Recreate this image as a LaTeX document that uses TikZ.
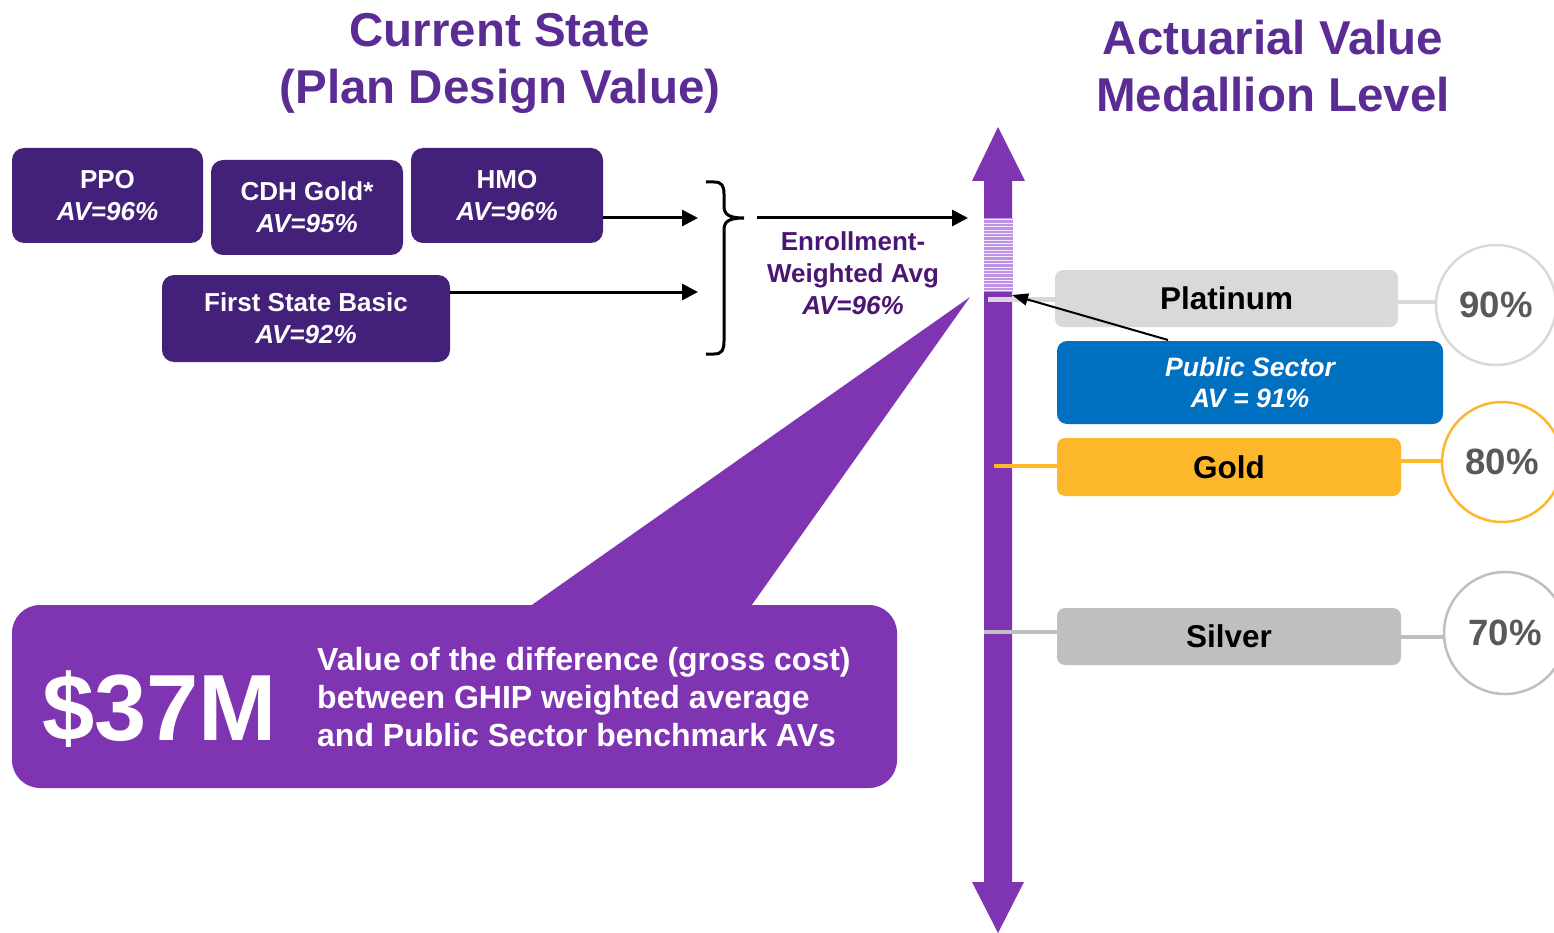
\documentclass[tikz,border=0pt]{standalone}
\usepackage{fontspec}
\setmainfont{Liberation Sans}
\usetikzlibrary{arrows.meta,calc}
\definecolor{boxpurple}{HTML}{43207A}
\definecolor{titlepurple}{HTML}{5B2D94}
\definecolor{avgpurple}{HTML}{4B1574}
\definecolor{axispurple}{HTML}{7F35B2}
\definecolor{stripeA}{HTML}{BE92E4}
\definecolor{stripeB}{HTML}{F3EAFA}
\definecolor{platgrey}{HTML}{D9D9D9}
\definecolor{silvgrey}{HTML}{BFBFBF}
\definecolor{goldc}{HTML}{FDB72A}
\definecolor{psblue}{HTML}{0070C0}
\definecolor{pcttext}{HTML}{595959}
\begin{document}
\begin{tikzpicture}[x=1pt,y=-1pt,
  planbox/.style={fill=boxpurple, rounded corners=12pt, text=white, align=center, inner sep=0pt,
    font=\bfseries\fontsize{26}{32}\selectfont},
  medal/.style={rounded corners=8pt, inner sep=0pt, text=black, font=\bfseries\fontsize{31.5}{36}\selectfont,
    minimum width=344pt, minimum height=57pt},
  pct/.style={circle, draw, line width=2.5pt, fill=white, minimum size=120pt, inner sep=0pt,
    text=pcttext, font=\bfseries\fontsize{36.6}{40}\selectfont},
  conn/.style={line width=4pt},
  arr/.style={line width=3pt, -{Triangle[length=16pt,width=16pt]}},
  title/.style={text=titlepurple, align=center, font=\bfseries\fontsize{47.5}{57}\selectfont}
]
\useasboundingbox (0,0) rectangle (1554,933);

% titles
\node[title] (t1) at (500,63) {Current State\\(Plan Design Value)};
\node[title] (t2) at (1273,66) {Actuarial Value\\Medallion Level};

% callout
\node[fill=axispurple, rounded corners=28pt, minimum width=885pt, minimum height=183pt, inner sep=0pt] (callout) at (454.5,696.5) {};
\coordinate (ptip) at (970,297);
\fill[axispurple] ($(callout.north west)+(516,3)$) -- (ptip) -- ($(callout.north west)+(738,3)$) -- cycle;
\node[anchor=base west, text=white, inner sep=0pt, font=\bfseries\fontsize{94}{100}\selectfont] (big) at (42,740) {\$37M};
\node[anchor=west, text=white, align=left, inner sep=0pt, font=\bfseries\fontsize{32}{38}\selectfont] (ctext) at (317,697)
  {Value of the difference (gross cost)\\between GHIP weighted average\\and Public Sector benchmark AVs};

% plan boxes
\node[planbox, minimum width=191pt, minimum height=95pt] (ppo) at (107.5,195.5) {PPO\\\textit{AV=96\%}};
\node[planbox, minimum width=192pt, minimum height=95pt] (cdh) at (307,207.5) {CDH Gold*\\\textit{AV=95\%}};
\node[planbox, minimum width=192pt, minimum height=95pt] (hmo) at (507,195.5) {HMO\\\textit{AV=96\%}};
\node[planbox, minimum width=288pt, minimum height=87pt] (fsb) at (306,318.5) {First State Basic\\\textit{AV=92\%}};

\coordinate (b1) at (698,218);
\coordinate (b2) at (698,292);
\draw[arr] (hmo.east |- b1) -- (b1);
\draw[arr] (fsb.east |- b2) -- (b2);

% brace
\draw[line width=3pt] (706,182) -- (714,182) .. controls (722,182) and (724,186) .. (724,194) -- (724,206)
  .. controls (724,214) and (728,218) .. (744,218)
  .. controls (728,218) and (724,222) .. (724,230) -- (724,341)
  .. controls (724,350) and (722,354) .. (714,354) -- (706,354);
\coordinate (bt) at (757,218);
\coordinate (at) at (968,218);
\draw[arr] (bt) -- (at);
\node[text=avgpurple, align=center, inner sep=0pt, font=\bfseries\fontsize{26}{32}\selectfont] (avg) at (853,273)
  {Enrollment-\\Weighted Avg\\\textit{AV=96\%}};

% axis
\fill[axispurple] (984,181) -- (972,181) -- (998,127) -- (1025,181) -- (1012,181) -- (1012,882)
  -- (1024,882) -- (998,933) -- (972,882) -- (984,882) -- cycle;
\node[fill=stripeA, minimum width=29pt, minimum height=74pt, inner sep=0pt] (stripes) at (998,255) {};
\foreach \i in {0,...,21} {
  \fill[stripeB] (983.5,219.5+\i*3.36) rectangle (1012.5,219.5+\i*3.36+1);
}

% medallion boxes
\node[medal, fill=platgrey, minimum width=343pt] (plat) at (1226.5,298.5) {Platinum};
\node[fill=psblue, rounded corners=10pt, minimum width=386pt, minimum height=83pt, inner sep=0pt, text=white,
  align=center, font=\bfseries\itshape\fontsize{26.6}{31}\selectfont] (ps) at (1250,382.5) {Public Sector\\AV = 91\%};
\node[medal, fill=goldc, minimum height=58pt] (gold) at (1229,467) {Gold};
\node[medal, fill=silvgrey] (silv) at (1229,636.5) {Silver};

% circles
\node[pct, draw=platgrey] (c90) at (1496,305) {90\%};
\node[pct, draw=goldc] (c80) at (1502,462) {80\%};
\node[pct, draw=silvgrey, minimum size=122pt] (c70) at (1505,633) {70\%};

% connectors
\coordinate (pl) at (988,299);
\draw[conn, platgrey, line width=5pt] (pl) -- (plat.west |- pl);
\draw[conn, platgrey] (plat.east |- 0,302) -- (c90.west |- 0,302);
\coordinate (gl) at (994,466);
\draw[conn, goldc] (gl) -- (gold.west |- gl);
\draw[conn, goldc] (gold.east |- 0,461) -- (c80.west |- 0,461);
\coordinate (sl) at (984,632);
\draw[conn, silvgrey] (sl) -- (silv.west |- sl);
\draw[conn, silvgrey] (silv.east |- 0,637) -- (c70.west |- 0,637);

% public sector pointer
\draw[line width=2pt, -{Triangle[length=16pt,width=12pt]}] (1168,340) -- (1012,295);
\end{tikzpicture}
\end{document}
